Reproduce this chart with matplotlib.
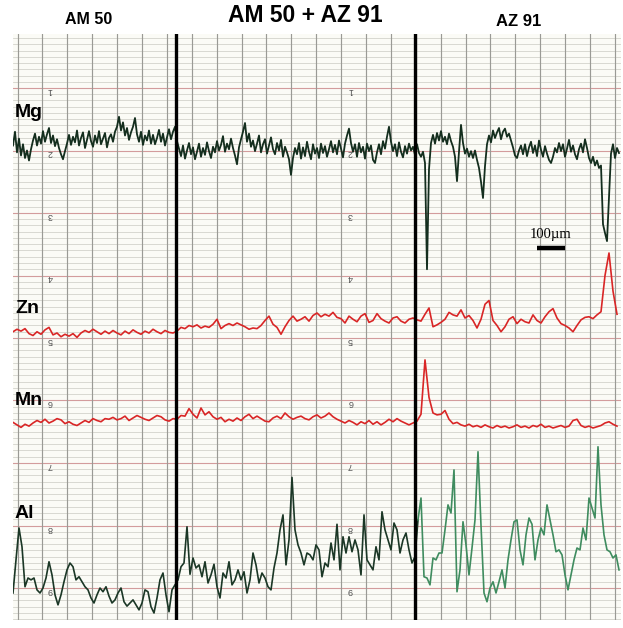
import numpy as np
import matplotlib
matplotlib.use("Agg")
import matplotlib.pyplot as plt

# Recorder deflection of each element channel along the line scan, in chart
# divisions (the printed paper numbers 1..9 sit at 10, 20, ... 90).
mg = [19.2, 17.0, 20.3, 18.1, 20.8, 19.0, 21.2, 20.0, 21.6, 19.8,
      18.4, 17.3, 19.2, 17.8, 18.9, 16.9, 18.6, 17.4, 16.4, 18.8,
      17.6, 19.3, 18.2, 19.6, 20.6, 21.4, 20.1, 18.9, 17.5, 19.1,
      17.8, 18.7, 16.8, 19.2, 18.0, 17.1, 19.6, 18.3, 16.9, 18.5,
      19.4, 17.6, 18.8, 16.9, 19.0, 18.1, 17.2, 19.5, 18.0, 17.4,
      18.6, 17.0, 16.2, 14.6, 16.8, 15.5, 17.6, 16.4, 18.3, 17.1,
      16.2, 14.8, 17.4, 18.6, 17.0, 19.1, 17.6, 18.4, 16.8, 18.9,
      17.5, 19.0, 18.0, 16.7, 18.6, 17.3, 19.2, 17.9, 16.6, 18.2,
      17.0, 16.2, 18.5, 19.7, 20.9, 19.2, 21.3, 20.0, 18.8, 20.6,
      19.5, 21.4, 20.2, 18.9, 21.0, 19.6, 20.7, 18.7, 20.1, 21.2,
      19.4, 20.3, 18.5, 20.0, 19.1, 17.7, 20.2, 18.9, 19.8, 18.1,
      19.6, 20.8, 22.2, 19.5, 18.2, 17.0, 15.6, 18.6, 17.3, 19.4,
      18.4, 20.1, 18.9, 17.6, 20.3, 19.0, 18.2, 20.5, 19.2, 17.9,
      19.8, 20.6, 18.8, 20.0, 18.3, 21.0, 19.4, 20.3, 21.4, 23.9,
      21.2, 19.6, 20.6, 18.8, 21.3, 19.5, 20.9, 18.6, 20.2, 21.4,
      19.0, 20.5, 19.6, 21.2, 18.9, 20.4, 19.3, 21.0, 19.8, 18.5,
      20.3, 19.1, 20.6, 18.4, 19.7, 21.1, 18.9, 17.6, 16.5, 18.8,
      20.2, 19.0, 21.0, 18.8, 20.3, 19.4, 21.3, 18.9, 20.1, 19.2,
      21.5, 22.0, 20.3, 19.0, 20.6, 18.5, 19.7, 17.8, 16.2, 18.6,
      20.1, 19.0, 20.9, 18.7, 20.2, 21.1, 19.3, 20.5, 18.9, 20.0,
      19.4, 20.7, 19.0, 20.4, 21.0, 20.2, 22.0, 39.0, 23.0, 18.8,
      17.5, 18.9, 17.2, 18.4, 16.9, 18.6, 17.8, 19.0, 17.3, 18.5,
      19.4, 21.0, 24.9, 20.2, 15.9, 18.8, 20.5, 19.7, 21.0, 20.1,
      21.2, 20.0, 21.5, 22.8, 25.0, 27.6, 22.5, 19.0, 17.6, 18.7,
      16.8, 18.0, 17.1, 16.4, 18.2, 17.0, 16.5, 17.8, 17.3, 18.4,
      19.5, 20.8, 21.2, 20.0, 19.2, 20.6, 19.0, 20.9, 19.5, 18.6,
      20.4, 19.2, 20.9, 18.4, 19.9, 21.0, 19.3, 20.5, 21.5, 22.0,
      21.0, 19.6, 20.3, 18.8, 20.1, 19.0, 21.0, 19.7, 18.3, 20.2,
      19.2, 20.6, 21.4, 19.8, 18.9, 20.3, 18.2, 19.6, 21.2, 22.0,
      21.0, 22.4, 21.6, 22.8, 22.4, 31.8, 33.2, 34.5, 27.5, 20.5,
      19.0, 21.2, 19.6, 20.4]

zn = [49.0, 48.6, 48.9, 48.5, 49.3, 49.6, 49.0, 49.4, 48.7, 48.3,
      49.5, 49.2, 49.8, 49.4, 49.7, 49.3, 49.9, 49.2, 48.8, 49.1,
      48.6, 49.0, 49.4, 48.9, 49.3, 48.8, 49.2, 49.5, 48.9, 49.3,
      48.7, 49.1, 49.4, 48.9, 49.2, 48.6, 49.0, 49.3, 48.8, 49.1,
      49.2, 48.9, 48.3, 48.5, 48.0, 48.2, 47.9, 48.4, 48.1, 48.3,
      47.8, 47.0, 48.5, 48.0, 47.7, 48.0, 47.6, 47.9, 48.2, 48.6,
      48.4, 48.5, 48.0, 47.2, 46.5, 47.8, 48.3, 49.4, 48.2, 47.2,
      46.5, 47.3, 47.0, 46.6, 47.3, 46.4, 46.0, 46.6, 46.2, 46.5,
      45.9, 46.7, 46.9, 47.6, 46.5, 47.0, 47.4, 46.5, 46.1, 47.5,
      47.2, 46.1, 46.9, 47.3, 47.6, 46.8, 46.6, 47.3, 47.6, 47.0,
      46.8, 47.1, 47.3, 46.2, 45.2, 48.2, 47.9, 47.5, 47.0, 45.9,
      46.3, 46.5, 45.5, 46.8, 46.4, 47.2, 48.4, 47.0, 44.6, 44.0,
      47.2, 48.0, 49.0, 48.2, 47.0, 46.6, 47.7, 47.0, 47.4, 47.6,
      46.3, 47.2, 47.6, 46.6, 45.8, 45.3, 46.8, 47.7, 48.0, 48.4,
      49.0, 48.0, 47.1, 46.7, 46.6, 46.9, 46.3, 45.8, 40.0, 36.4,
      42.5, 46.2]

mn = [63.5, 63.9, 64.3, 63.8, 64.1, 63.6, 63.2, 63.5, 63.0, 63.6,
      63.3, 62.9, 63.1, 63.7, 63.4, 63.8, 64.0, 63.6, 63.2, 63.5,
      62.9, 63.2, 63.4, 62.9, 63.0, 62.7, 63.1, 62.9, 62.5, 63.2,
      62.8, 62.4, 62.7, 63.0, 63.2, 62.8, 62.4, 62.6, 63.1, 63.3,
      62.9, 63.0, 62.4, 62.5, 61.3, 62.2, 62.8, 61.2, 62.3, 61.8,
      62.6, 63.0, 62.7, 63.4, 63.0, 63.3, 62.8, 63.2, 62.6, 62.2,
      62.9, 62.5, 62.9, 63.3, 63.4, 62.8, 62.5, 62.9, 62.0, 62.6,
      63.0, 62.7, 62.5, 62.9, 63.1, 62.6, 62.3, 62.8, 62.5, 62.0,
      62.6, 63.0, 63.3, 63.6, 63.2, 63.5, 63.9, 63.4, 63.7, 63.2,
      63.8, 63.4, 63.9, 63.5, 63.0, 63.4, 62.9, 63.3, 63.6, 63.9,
      63.6, 63.3, 62.2, 53.5, 59.5, 62.0, 62.3, 62.2, 61.6, 63.0,
      63.7, 63.5, 63.9, 64.1, 63.8, 64.2, 64.0, 64.3, 63.9, 64.2,
      64.4, 64.0, 64.3, 64.1, 64.4, 64.2, 63.9, 64.3, 64.1, 64.4,
      64.0, 64.2, 63.8, 64.3, 64.1, 64.4, 64.2, 64.0, 64.3, 64.1,
      63.2, 63.0, 64.0, 64.3, 64.1, 64.4, 64.2, 64.0, 63.6, 63.4,
      63.8, 64.1]

al = [90.8, 85.5, 80.4, 83.4, 89.8, 88.4, 88.7, 88.4, 90.3, 90.8,
      90.0, 88.4, 85.8, 87.9, 91.1, 92.7, 91.1, 89.0, 87.1, 86.0,
      86.6, 88.7, 88.2, 89.0, 89.8, 90.3, 91.6, 92.4, 91.1, 90.0,
      90.6, 89.8, 91.3, 92.4, 91.9, 90.8, 90.0, 92.2, 92.9, 92.4,
      91.9, 92.7, 93.5, 92.4, 90.3, 90.6, 93.0, 94.0, 91.6, 88.7,
      87.6, 91.1, 93.8, 90.3, 89.5, 88.7, 86.6, 86.0, 80.2, 87.8,
      85.2, 86.8, 86.3, 88.2, 85.8, 89.2, 87.9, 86.2, 89.8, 91.6,
      87.6, 88.4, 85.8, 89.5, 88.7, 87.1, 88.7, 87.4, 90.8, 88.7,
      84.4, 86.3, 89.2, 87.6, 88.4, 89.8, 90.3, 86.8, 84.4, 80.7,
      78.3, 86.3, 82.3, 72.3, 80.7, 83.1, 84.4, 86.3, 84.4, 84.7,
      85.5, 83.1, 83.9, 88.2, 86.0, 86.6, 82.8, 85.5, 79.8, 87.1,
      81.8, 84.4, 81.8, 84.2, 82.3, 83.9, 87.9, 78.3, 85.5, 86.3,
      87.1, 83.4, 85.5, 77.8, 80.7, 82.3, 83.9, 79.6, 80.7, 84.4,
      82.3, 81.2, 83.9, 86.0, 85.0, 79.1, 75.6, 88.2, 88.4, 89.5,
      85.2, 85.5, 84.4, 84.4, 80.7, 76.7, 78.0, 71.1, 90.6, 87.1,
      79.4, 83.1, 87.9, 83.6, 79.1, 68.2, 80.0, 90.8, 92.2, 90.0,
      89.0, 90.8, 89.0, 87.1, 90.0, 85.5, 82.3, 79.4, 79.1, 83.9,
      86.3, 81.5, 78.8, 79.8, 85.5, 82.3, 80.4, 81.5, 76.7, 79.1,
      81.5, 84.2, 83.9, 84.7, 87.9, 90.3, 87.9, 85.5, 83.6, 83.9,
      80.4, 82.3, 75.6, 77.2, 78.8, 67.4, 76.7, 81.5, 83.9, 84.2,
      85.2, 84.7, 87.1]

zone_labels = ["AM 50", "AM 50 + AZ 91", "AZ 91"]
element_labels = ["Mg", "Zn", "Mn", "Al"]
chart_numbers = [1, 2, 3, 4, 5, 6, 7, 8, 9]

# scan geometry (µm)
STEP_MG = 7.2           # sampling step of the Mg channel
STEP_AL = 10.8          # sampling step of the Al channel
STEP_ZN_MN = 14.4       # sampling step of the Zn and Mn channels
SCAN_LENGTH = 2188.8
INTERFACES = [587.0, 1447.0]
GRID_START, GRID_PITCH = 16.2, 89.6
SCALE_BAR = (1886.0, 100.0)
AL_SPLIT = 135          # Al samples past the second interface are inked lighter

W, H = 623, 628
fig = plt.figure(figsize=(W / 100, H / 100), dpi=100)
fig.patch.set_facecolor("white")


def fx(px):
    return px / W


def fy(py):
    return 1 - py / H


left, right, top, bottom = 13, 621, 34, 620
ax = fig.add_axes([fx(left), fy(bottom), (right - left) / W, (bottom - top) / H])
ax.set_facecolor("#fbfbf6")
ax.set_xlim(0, SCAN_LENGTH)
ax.set_ylim(95.12, 1.36)
ax.set_xticks([])
ax.set_yticks([])
for s in ax.spines.values():
    s.set_visible(False)

# chart paper ruling
for d in range(2, 96):
    if d % 10 == 0:
        ax.axhline(d, color="#d39c9c", lw=0.8, zorder=1)
    else:
        ax.axhline(d, color="#cfcfc8", lw=0.55, zorder=1)
for k in range(25):
    ax.axvline(GRID_START + GRID_PITCH * k, color="#9a9a95", lw=0.85, zorder=1)

# printed (upside-down) paper numbering
for n in chart_numbers:
    for xn in (133, 1215):
        ax.text(xn, n * 10 + 0.4, str(n), rotation=180, fontsize=6.5,
                ha="center", va="center", color="#505050", zorder=2,
                family="Liberation Sans")

# traces
ax.plot(np.arange(len(mg)) * STEP_MG, mg, color="#142e1e", lw=1.3, zorder=3)
ax.plot(np.arange(len(zn)) * STEP_ZN_MN, zn, color="#d92626", lw=1.2, zorder=3)
ax.plot(np.arange(len(mn)) * STEP_ZN_MN, mn, color="#d92626", lw=1.2, zorder=3)
x_al = np.arange(len(al)) * STEP_AL
ax.plot(x_al[:AL_SPLIT + 1], al[:AL_SPLIT + 1], color="#1b3726", lw=1.2, zorder=3)
ax.plot(x_al[AL_SPLIT:], al[AL_SPLIT:], color="#3f8c5f", lw=1.2, zorder=3)

# zone boundaries
for xi in INTERFACES:
    ax.axvline(xi, color="black", lw=2.4, zorder=4)

# scale bar
x0, length = SCALE_BAR
ax.plot([x0, x0 + length], [35.6, 35.6], color="black", lw=3.2,
        solid_capstyle="butt", zorder=5)
ax.text(x0 + length / 2, 34.5, "100\u00b5m", ha="center", va="bottom",
        fontsize=10.5, family="Liberation Serif", zorder=5)

# element labels
for name, yb in zip(element_labels, [14.6, 46.0, 60.7, 78.8]):
    ax.text(7, yb, name, ha="left", va="baseline", fontsize=14,
            fontweight="bold", family="Liberation Sans", zorder=5)

# zone titles
for name, (px, py, fs) in zip(zone_labels, [(89, 20, 11.5), (305, 16, 16.5), (519, 22, 12)]):
    fig.text(fx(px), fy(py), name, ha="center", va="center", fontsize=fs,
             fontweight="bold", family="Liberation Sans")

fig.savefig("out.png", dpi=100, facecolor="white")
